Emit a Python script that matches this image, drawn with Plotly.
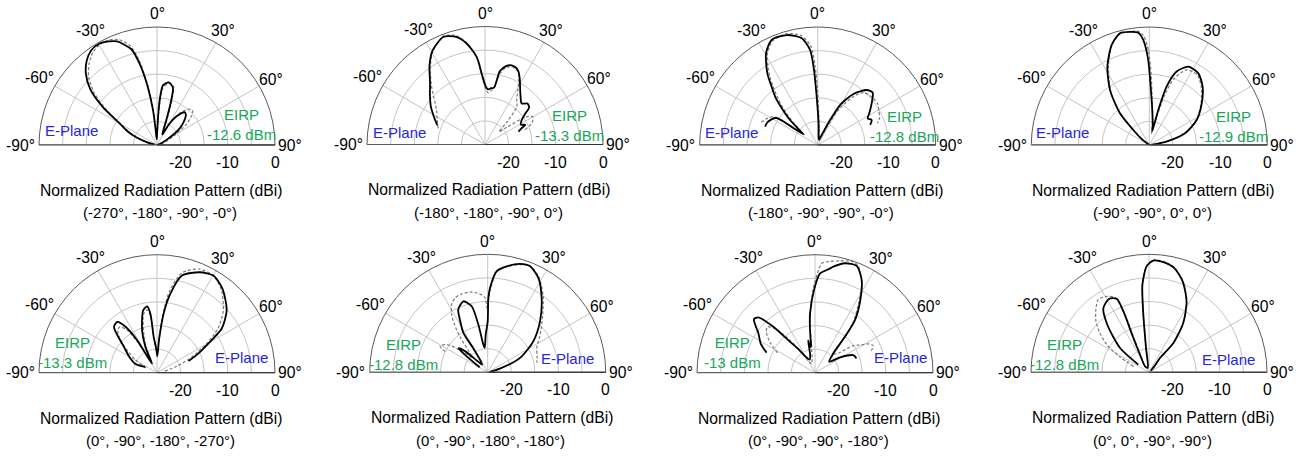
import math
import plotly.graph_objects as go

W, H = 1306, 458

# ---------------- data (theta in degrees, r in dB) ----------------
# Panel 1  (-270, -180, -90, -0)
p1_sim_theta = [-80, -75, -70, -65, -60, -55, -50, -45, -40, -35, -30, -25, -21, -15, -12, -9, -6.5, -5, -3, 0.5, 2.5, 3.4, 5.7, 10.7, 15.5, 17.7, 20.5, 24, 27, 30, 34, 40, 44, 49, 54, 62, 72, 85]
p1_sim_r = [-24.5, -23, -20.5, -18, -15.9, -11, -6.5, -3.7, -1.8, -0.6, -0.3, -0.8, -1.5, -4, -7.5, -12.6, -17.6, -21.8, -23.8, -22.5, -18, -15.5, -12.3, -11.5, -12.4, -15.1, -19.4, -21.9, -22.5, -20, -17.8, -15.9, -16.2, -17.5, -19.1, -22.8, -24.5, -25]
p1_meas_theta = [-78, -72, -66, -60, -55, -50, -45, -40, -35, -30, -25, -20, -15, -12, -9, -6.5, -4.5, -2.5, 0.5, 2.5, 4, 6, 10.7, 15.5, 18, 21, 24, 27, 31, 36, 42, 46, 50, 55, 62, 70, 80, 88]
p1_meas_r = [-24.5, -22, -19, -16.2, -11.8, -7.5, -4.5, -2.6, -1.2, -0.5, -0.5, -1.2, -3.3, -6.5, -11.8, -17, -21.5, -23.8, -23, -19, -15.8, -12.8, -11.7, -12, -14.6, -18.8, -21.6, -22.3, -19.5, -16.5, -14.8, -14.5, -15.5, -17.5, -21, -23.2, -24.5, -25]

# Panel 2  (-180, -180, -90, 0)
p2_sim_theta = [-68, -62, -55, -48, -42, -35, -29, -21, -15, -10.3, -5.4, -2, 1, 3.5, 6, 9, 11.5, 15, 18.6, 21.5, 24.3, 28, 31.3, 36, 41.8, 46, 50, 53, 57, 61, 64, 66, 69]
p2_sim_r = [-14.1, -12.8, -11, -9.3, -7.6, -4.5, -2.15, -0.55, -1.4, -3.25, -6.35, -10.7, -12.8, -13.3, -13, -12.8, -9.1, -7.8, -7.3, -7.4, -7.9, -9.3, -10.7, -12.2, -13.35, -12.5, -12.8, -14.5, -15.8, -16.3, -15.5, -16.5, -17.4]
p2_meas_theta = [-71, -62, -55, -48, -42, -35, -29, -21, -15, -10, -5.4, -2, 1, 3.5, 6, 9, 12, 15, 18.6, 22, 25, 28, 31, 35, 40, 44, 48, 52, 56, 60, 65, 70]
p2_meas_r = [-14.5, -13.5, -12.5, -10.5, -8, -4.8, -2.3, -0.4, -1.1, -3.2, -6.6, -11.2, -13.4, -14, -13.6, -12.8, -9.6, -8.2, -7.6, -7.7, -8.2, -9.8, -11.5, -13.3, -14.5, -18, -21, -19, -14.5, -13.3, -14, -16]

# Panel 3  (-180, -90, -90, -0)
p3_sim_theta = [-70.8, -66, -61, -57, -55.5, -55, -53, -50, -47.9, -44, -41.4, -38, -35.1, -29.4, -23.7, -15.7, -8.5, -4.6, -2.8, -1.2, 1, 3, 8, 15, 22, 26.3, 29.2, 35, 41.7, 46.4, 52.3, 58.5, 62, 65.2, 69]
p3_sim_r = [-13.2, -13.3, -13.8, -14.4, -16, -18.5, -21.3, -19.5, -17.1, -13.8, -11.4, -9, -6.45, -2.7, -0.7, -0.8, -2.15, -4.8, -9.1, -14.8, -19, -21.1, -23.5, -23.8, -22.6, -19.1, -15.3, -11.8, -9.4, -8.9, -10.55, -12.2, -13, -12.4, -13.1]
p3_meas_theta = [-68, -63, -58.4, -56, -55, -53, -50, -47, -44, -41, -38, -35, -29.4, -23.7, -15.7, -8.5, -4, -2, 0, 2, 5, 10, 18, 25, 28, 31, 36, 41, 46, 51, 56, 61, 66, 70]
p3_meas_r = [-12.1, -12.8, -13.6, -15.5, -18, -21, -20, -17.8, -15, -12.5, -10, -7.3, -3.2, -1.0, -0.5, -1.6, -4, -8, -13.5, -18.5, -21.5, -23.5, -24, -22.5, -19.5, -16, -12.5, -10.3, -9.8, -9.6, -9.6, -10.2, -10.6, -11.5]

# Panel 4  (-90, -90, 0, 0)
p4_sim_theta = [-58, -52, -46.8, -42.8, -35.6, -28.2, -20.6, -14.7, -9.7, -5.6, -3.3, -0.7, 1.3, 4.9, 10.3, 12, 14.4, 16.5, 20.4, 26.5, 34.4, 42.4, 51.5, 62.2, 71.9, 79, 86]
p4_sim_r = [-25, -23, -20.35, -15.85, -10.7, -6.2, -2.35, -0.5, -0.7, -1.1, -2.7, -7, -12.6, -17.6, -21, -22, -17.35, -12.1, -8.4, -6.45, -6.6, -8.25, -10.8, -13.65, -17.05, -21.3, -24.5]
p4_meas_theta = [-58, -52, -47, -43, -36, -28, -21, -15, -10, -5.6, -3, -0.5, 1.5, 3, 5, 8, 11, 13.5, 15, 17, 20.4, 26.5, 34.4, 42.4, 51.5, 62.2, 71.9, 79, 86]
p4_meas_r = [-25, -23.3, -20.8, -16.5, -11.2, -6.6, -2.6, -0.7, -0.6, -0.8, -1.8, -5, -10, -14, -17.5, -20.5, -22.5, -21, -18.5, -14, -10, -7.2, -7, -8.6, -11, -13.8, -17.3, -21.5, -24.5]

# Panel 5  (0, -90, -180, -270)
p5_sim_theta = [-64, -68, -60, -52, -43.3, -38.1, -34.5, -31.5, -30.5, -28, -24.2, -19.4, -12.6, -8.5, -6.4, -5.3, -2, 1, 3.5, 6.4, 9.5, 14.4, 23.2, 30.1, 38, 48.2, 55.7, 60.4, 65, 69.8]
p5_sim_r = [-22.2, -20.1, -18.2, -16.1, -11.7, -11.35, -13.2, -16.9, -21.5, -22.8, -19, -15.5, -11.5, -10.8, -12.4, -17.4, -19.8, -21.5, -18.1, -12.4, -8.1, -3.75, -1.85, -1.2, -2.45, -5.2, -8.4, -12.5, -15.3, -17.9]
p5_meas_theta = [-66, -60, -54, -48, -43, -39, -35, -32, -30, -27, -23, -19, -13, -9, -6.5, -5, -2, 1.5, 3.5, 6, 9, 14, 22, 30, 38, 47, 54, 60, 66, 72, 80]
p5_meas_r = [-22.5, -20, -17.5, -14.5, -12.8, -12.5, -14, -17.5, -21, -22, -19, -16.5, -12.3, -11.5, -13, -17.5, -20.5, -21, -17.5, -12, -7.2, -3.2, -1.3, -1.2, -2.8, -5.8, -9, -13, -17, -20.5, -23.5]

# Panel 6  (0, -90, -180, -180)
p6_sim_theta = [-58, -53, -50.3, -47, -43, -37, -32.7, -31, -31.7, -28, -25.1, -18.9, -13.6, -11.1, -8.9, -7, -3, 0, 0.5, 1.6, 5.1, 10.2, 16.6, 21.8, 28.2, 36, 45.7, 55.8, 66, 73.4, 80]
p6_sim_r = [-23, -19.5, -17, -18.5, -21.5, -23, -22.5, -19, -15.2, -12.5, -10.3, -9.1, -10.6, -14.7, -19.1, -19.8, -17, -14.2, -9.25, -7.1, -3.5, -2.2, -1.05, -0.8, -2.3, -5.55, -9.5, -13.3, -17.5, -22.3, -24.5]
p6_meas_theta = [-64, -61.4, -57, -54, -50, -46, -42, -38, -35, -32, -28, -23.7, -19.6, -12, -6, -2, -0.5, 0.5, 2, 5, 10, 16.6, 22, 28, 36, 43.6, 54.3, 63.6, 72, 79]
p6_meas_r = [-15, -13.5, -14.2, -15.5, -18.5, -20.5, -19, -15.5, -12.8, -10.6, -8.7, -7.8, -7.55, -7.6, -8.3, -9.2, -11.5, -10, -7.3, -3.7, -2.3, -1.2, -0.8, -2, -5, -8.1, -11.3, -13.4, -14, -14.4]

# Panel 7  (0, -90, -90, -180)
p7_sim_theta = [-67.5, -62, -55.2, -48.8, -45.7, -42.2, -38.9, -35, -31, -22, -15, -12, -10, -8, -7.6, -6, -4.8, -0.7, 2.9, 7.4, 9.8, 15.3, 21.3, 26.7, 32.4, 37.2, 39.8, 43.5, 52.5, 58.5, 65.3, 71]
p7_sim_r = [-13.9, -12, -10.4, -7.8, -8.2, -11.85, -16.6, -19, -20.9, -22, -21, -18, -19.5, -19, -18, -14.5, -12.4, -7.5, -3.95, -2.9, -2.2, -0.96, -0.7, -3, -7.2, -11, -15.1, -19.4, -21.2, -18.8, -16.1, -15.7]
p7_meas_theta = [-62, -56, -50, -46, -42, -38, -34, -28, -20, -12, -8, -6, -4.5, -1.5, 3.5, 7, 12, 19, 22, 27, 32, 37, 40, 44, 50, 55, 58.4, 62, 65, 70]
p7_meas_r = [-16, -13.5, -11.5, -11, -12.5, -16, -19.5, -22.5, -23, -22, -20, -16, -12.5, -7.5, -1.8, -1.3, -0.8, -0.1, -0.6, -3.2, -7.5, -11.5, -15.5, -19.5, -18.5, -15, -13.8, -12, -11.4, -12.5]

# Panel 8  (0, 0, -90, -90)
p8_sim_theta = [-54.3, -50, -41.2, -35.4, -28.4, -23.7, -22.8, -24.5, -27, -33.7, -15, -7, -5.6, -4.3, -1.3, 2.2, 7.4, 13.5, 20.3, 27.9, 34.8, 39.7, 37.5, 40.6, 50]
p8_sim_r = [-22.2, -17, -11.6, -8.3, -7.3, -8, -11, -17, -20.8, -23.5, -24, -19.8, -12.7, -6.4, -2.55, -1.3, -1.45, -2.25, -4.45, -8, -12.3, -16.9, -21.2, -23, -24.5]
p8_meas_theta = [-69, -62, -56.8, -51, -46.1, -40, -34.9, -29, -24.5, -22.5, -23.5, -26, -32, -15, -7, -5.6, -4.3, -1.3, 2.2, 7.4, 13.5, 20.3, 27.9, 34.8, 39.7, 38, 41]
p8_meas_r = [-21.5, -18, -14.3, -11.5, -9.4, -7.5, -6.2, -6.6, -7.6, -11, -16.5, -20.5, -23.5, -24, -19.6, -12.5, -6.2, -2.4, -1.2, -1.3, -2.1, -4.3, -7.9, -12.2, -16.8, -21, -23]

subtitles = [
    "(-270°, -180°, -90°, -0°)",
    "(-180°, -180°, -90°, 0°)",
    "(-180°, -90°, -90°, -0°)",
    "(-90°, -90°, 0°, 0°)",
    "(0°, -90°, -180°, -270°)",
    "(0°, -90°, -180°, -180°)",
    "(0°, -90°, -90°, -180°)",
    "(0°, 0°, -90°, -90°)",
]
eirp_labels = ["-12.6 dBm", "-13.3 dBm", "-12.8 dBm", "-12.9 dBm",
               "-13.3 dBm", "-12.8 dBm", "-13 dBm", "-12.8 dBm"]
axis_title = "Normalized Radiation Pattern (dBi)"
angle_ticks = [-90, -60, -30, 0, 30, 60, 90]
angle_ticktext = ["-90°", "-60°", "-30°", "0°", "30°", "60°", "90°"]
radial_ticks = [-20, -15, -10, -5, 0]
radial_labels = [-20, -10, 0]
r_range = [-25, 0]

sims = [(p1_sim_theta, p1_sim_r), (p2_sim_theta, p2_sim_r), (p3_sim_theta, p3_sim_r), (p4_sim_theta, p4_sim_r),
        (p5_sim_theta, p5_sim_r), (p6_sim_theta, p6_sim_r), (p7_sim_theta, p7_sim_r), (p8_sim_theta, p8_sim_r)]
meas = [(p1_meas_theta, p1_meas_r), (p2_meas_theta, p2_meas_r), (p3_meas_theta, p3_meas_r), (p4_meas_theta, p4_meas_r),
        (p5_meas_theta, p5_meas_r), (p6_meas_theta, p6_meas_r), (p7_meas_theta, p7_meas_r), (p8_meas_theta, p8_meas_r)]

# ---------------- layout geometry ----------------
centers = [(157, 145), (485, 144.5), (817.7, 145), (1149.3, 145),
           (157, 372.7), (487.7, 372.3), (815, 372.7), (1149, 372.3)]
R = 118
# distance (px) from centre to angular tick-label centre
label_dist = {-90: 137, -60: 135.5, -30: 132.5, 0: 131, 30: 132, 60: 132, 90: 133}
eplane_off = [(-86, -15), (-85, -12), (-86, -13), (-87, -13),
              (84, -15), (80, -14), (86, -15), (79, -13)]
eirp_off = [(84, -20.5), (84, -18.5), (87, -18.5), (84, -18.5),
            (-84.5, -20.5), (-84.7, -17.7), (-82.5, -20.5), (-85, -17.7)]

FONT = "Liberation Sans, Arial, sans-serif"
BLUE = "#2626d6"
GREEN = "#17a65a"
FS = 15.7
FS_SUB = 15
FS_ANN = 15


def px(x, y):
    return x / W, 1 - y / H


fig = go.Figure()
layout = dict(width=W, height=H, margin=dict(l=0, r=0, t=0, b=0),
              paper_bgcolor="white", plot_bgcolor="white", showlegend=False,
              font=dict(family=FONT, size=FS, color="black"))
annotations = []


def add_text(x, y, text, size, color="black"):
    ax, ay = px(x, y)
    annotations.append(dict(x=ax, y=ay, xref="paper", yref="paper", text=text,
                            showarrow=False, xanchor="center", yanchor="middle",
                            align="center", font=dict(size=size, family=FONT, color=color)))


for i in range(8):
    name = "polar" if i == 0 else f"polar{i+1}"
    cx, cy = centers[i]
    layout[name] = dict(
        domain=dict(x=[(cx - R) / W, (cx + R) / W], y=[1 - cy / H, 1 - (cy - R) / H]),
        sector=[0, 180],
        bgcolor="white",
        angularaxis=dict(rotation=90, direction="clockwise", tickmode="array",
                         tickvals=angle_ticks, showticklabels=False,
                         showgrid=True, gridcolor="#c4c4c4", gridwidth=1,
                         showline=True, linecolor="#5a5a5a", linewidth=1, ticks=""),
        radialaxis=dict(range=r_range, tickmode="array", tickvals=radial_ticks,
                        showticklabels=False, angle=0,
                        showline=True, linecolor="#333333", linewidth=1,
                        showgrid=True, gridcolor="#c4c4c4", gridwidth=1, ticks=""),
    )
    # baseline (diameter) between the -90 / 90 edges
    fig.add_trace(go.Scatterpolar(theta=[angle_ticks[0], angle_ticks[-1]], r=[r_range[1], r_range[1]],
                                  mode="lines", line=dict(color="#333333", width=1),
                                  subplot=name, hoverinfo="skip"))
    mt, mr = meas[i]
    fig.add_trace(go.Scatterpolar(theta=mt, r=mr, mode="lines",
                                  line=dict(color="#7a7a7a", width=1.2, dash="3px,2px",
                                            shape="spline", smoothing=0.7),
                                  subplot=name))
    st, sr = sims[i]
    fig.add_trace(go.Scatterpolar(theta=st, r=sr, mode="lines",
                                  line=dict(color="black", width=1.8,
                                            shape="spline", smoothing=0.7),
                                  subplot=name))

    # angular tick labels
    for a, t in zip(angle_ticks, angle_ticktext):
        d = label_dist[a]
        rad = math.radians(a)
        add_text(cx + d * math.sin(rad), cy - d * math.cos(rad), t, FS)
    # radial tick labels (below the baseline, right half)
    for v in radial_labels:
        add_text(cx + R * (v - r_range[0]) / (r_range[1] - r_range[0]), cy + 17.5, f"{v}", FS)

    ex, ey = eplane_off[i]
    add_text(cx + ex, cy + ey, "E-Plane", FS_ANN, BLUE)
    gx, gy = eirp_off[i]
    add_text(cx + gx, cy + gy, "EIRP<br>" + eirp_labels[i], FS_ANN, GREEN)
    add_text(cx + 4, cy + 45.5, axis_title, FS)
    add_text(cx + 3, cy + 68, subtitles[i], FS_SUB)

layout["annotations"] = annotations
fig.update_layout(**layout)
fig.write_html("out.html")
